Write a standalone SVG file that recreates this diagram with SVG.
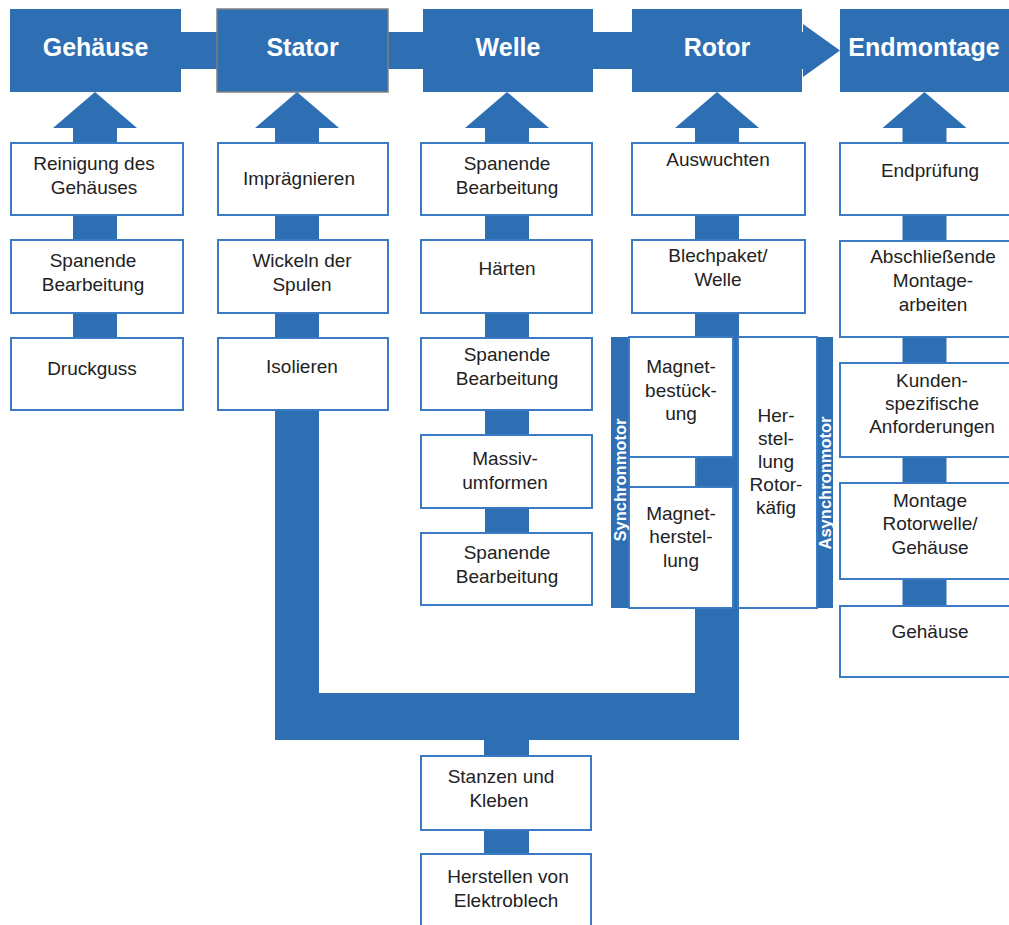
<svg xmlns="http://www.w3.org/2000/svg" width="1009" height="925" viewBox="0 0 1009 925">
<style>
.blue{fill:#2E6FB4}
.hdr{fill:#2E6FB4}
.box{fill:#ffffff;stroke:#3B7BC4;stroke-width:2}
.ht{font-family:"Liberation Sans",Arial,sans-serif;font-weight:bold;font-size:25px;fill:#ffffff;text-anchor:middle}
.t{font-family:"Liberation Sans",Arial,sans-serif;font-size:19px;fill:#222222;text-anchor:middle}
.vt{font-family:"Liberation Sans",Arial,sans-serif;font-weight:bold;font-size:16.5px;fill:#ffffff;text-anchor:middle}
</style>
<rect width="1009" height="925" fill="#ffffff"/>
<g id="connectors">
  <rect class="blue" x="181" y="32" width="622" height="37"/>
  <polygon class="blue" points="803,24 840,50.5 803,77"/>
  <polygon class="blue" points="95,92 53,128 137,128"/>
  <rect class="blue" x="73" y="127" width="44" height="17"/>
  <polygon class="blue" points="297,92 255,128 339,128"/>
  <rect class="blue" x="275" y="127" width="44" height="17"/>
  <polygon class="blue" points="507,92 465,128 549,128"/>
  <rect class="blue" x="485" y="127" width="44" height="17"/>
  <polygon class="blue" points="717,92 675,128 759,128"/>
  <rect class="blue" x="695" y="127" width="44" height="17"/>
  <polygon class="blue" points="924.5,92 882.5,128 966.5,128"/>
  <rect class="blue" x="902.5" y="127" width="44" height="17"/>
  <rect class="blue" x="73" y="214" width="44" height="27"/>
  <rect class="blue" x="73" y="312" width="44" height="27"/>
  <rect class="blue" x="275" y="214" width="44" height="27"/>
  <rect class="blue" x="275" y="312" width="44" height="27"/>
  <rect class="blue" x="485" y="214" width="44" height="27"/>
  <rect class="blue" x="485" y="312" width="44" height="27"/>
  <rect class="blue" x="485" y="409" width="44" height="27"/>
  <rect class="blue" x="485" y="507" width="44" height="27"/>
  <rect class="blue" x="695" y="214" width="44" height="27"/>
  <rect class="blue" x="695" y="312" width="44" height="428"/>
  <rect class="blue" x="902.5" y="214" width="44" height="27"/>
  <rect class="blue" x="902.5" y="336" width="44" height="28"/>
  <rect class="blue" x="902.5" y="456" width="44" height="28"/>
  <rect class="blue" x="902.5" y="578" width="44" height="29"/>
  <rect class="blue" x="275" y="410" width="44" height="330"/>
  <rect class="blue" x="275" y="693" width="464" height="47"/>
  <rect class="blue" x="484" y="739" width="45" height="18"/>
  <rect class="blue" x="484" y="829" width="45" height="26"/>
  <rect class="blue" x="611" y="337" width="18" height="271"/>
  <rect class="blue" x="817" y="337" width="16" height="271"/>
</g>
<g id="h-gehaeuse"><rect class="hdr" x="10" y="9" width="171" height="83"/><text class="ht" x="95.5" y="56">Gehäuse</text></g>
<g id="h-stator"><rect class="hdr" x="217" y="9" width="171" height="83" stroke="#808080" stroke-width="1.5"/><text class="ht" x="302.5" y="56">Stator</text></g>
<g id="h-welle"><rect class="hdr" x="423" y="9" width="170" height="83"/><text class="ht" x="508" y="56">Welle</text></g>
<g id="h-rotor"><rect class="hdr" x="632" y="9" width="170" height="83"/><text class="ht" x="717" y="56">Rotor</text></g>
<g id="h-endmontage"><rect class="hdr" x="840" y="9" width="175" height="83"/><text class="ht" x="924" y="56">Endmontage</text></g>

<g id="g1"><rect class="box" x="11" y="143" width="172" height="72"/><text class="t" x="94" y="170">Reinigung des<tspan x="94" y="194">Gehäuses</tspan></text></g>
<g id="g2"><rect class="box" x="11" y="240" width="172" height="73"/><text class="t" x="93" y="267">Spanende<tspan x="93" y="291">Bearbeitung</tspan></text></g>
<g id="g3"><rect class="box" x="11" y="338" width="172" height="72"/><text class="t" x="92" y="375">Druckguss</text></g>

<g id="s1"><rect class="box" x="218" y="143" width="170" height="72"/><text class="t" x="299" y="185">Imprägnieren</text></g>
<g id="s2"><rect class="box" x="218" y="240" width="170" height="73"/><text class="t" x="302" y="267">Wickeln der<tspan x="302" y="291">Spulen</tspan></text></g>
<g id="s3"><rect class="box" x="218" y="338" width="170" height="72"/><text class="t" x="302" y="373">Isolieren</text></g>

<g id="w1"><rect class="box" x="421" y="143" width="171" height="72"/><text class="t" x="507" y="170">Spanende<tspan x="507" y="194">Bearbeitung</tspan></text></g>
<g id="w2"><rect class="box" x="421" y="240" width="171" height="73"/><text class="t" x="507" y="275">Härten</text></g>
<g id="w3"><rect class="box" x="421" y="338" width="171" height="72"/><text class="t" x="507" y="361">Spanende<tspan x="507" y="385">Bearbeitung</tspan></text></g>
<g id="w4"><rect class="box" x="421" y="435" width="171" height="73"/><text class="t" x="505" y="465">Massiv-<tspan x="505" y="489">umformen</tspan></text></g>
<g id="w5"><rect class="box" x="421" y="533" width="171" height="72"/><text class="t" x="507" y="559">Spanende<tspan x="507" y="583">Bearbeitung</tspan></text></g>

<g id="r1"><rect class="box" x="632" y="143" width="173" height="72"/><text class="t" x="718" y="166">Auswuchten</text></g>
<g id="r2"><rect class="box" x="632" y="240" width="173" height="73"/><text class="t" x="718" y="262">Blechpaket/<tspan x="718" y="286">Welle</tspan></text></g>
<g id="r3"><rect class="box" x="629" y="337" width="104" height="120"/><text class="t" x="681" y="373">Magnet-<tspan x="681" y="397">bestück-</tspan><tspan x="681" y="420">ung</tspan></text></g>
<g id="r3b"><rect class="box" x="629" y="457" width="67" height="30"/></g>
<g id="r4"><rect class="box" x="629" y="487" width="104" height="121"/><text class="t" x="681" y="520">Magnet-<tspan x="681" y="543">herstel-</tspan><tspan x="681" y="567">lung</tspan></text></g>
<g id="r5"><rect class="box" x="738" y="337" width="79" height="271"/><text class="t" x="776" y="422">Her-<tspan x="776" y="445">stel-</tspan><tspan x="776" y="468">lung</tspan><tspan x="776" y="491">Rotor-</tspan><tspan x="776" y="514">käfig</tspan></text></g>
<g id="sync"><text class="vt" transform="translate(626,480) rotate(-90)">Synchronmotor</text></g>
<g id="async"><text class="vt" transform="translate(831,483) rotate(-90)">Asynchronmotor</text></g>

<g id="e1"><rect class="box" x="840" y="143" width="175" height="72"/><text class="t" x="930" y="177">Endprüfung</text></g>
<g id="e2"><rect class="box" x="840" y="241" width="175" height="96"/><text class="t" x="933" y="263">Abschließende<tspan x="933" y="287">Montage-</tspan><tspan x="933" y="311">arbeiten</tspan></text></g>
<g id="e3"><rect class="box" x="840" y="363" width="175" height="94"/><text class="t" x="932" y="387">Kunden-<tspan x="932" y="410">spezifische</tspan><tspan x="932" y="433">Anforderungen</tspan></text></g>
<g id="e4"><rect class="box" x="840" y="483" width="175" height="96"/><text class="t" x="930" y="507">Montage<tspan x="930" y="530">Rotorwelle/</tspan><tspan x="930" y="554">Gehäuse</tspan></text></g>
<g id="e5"><rect class="box" x="840" y="606" width="175" height="71"/><text class="t" x="930" y="638">Gehäuse</text></g>

<g id="b1"><rect class="box" x="421" y="756" width="170" height="74"/><text class="t" x="501" y="783">Stanzen und<tspan x="499" y="807">Kleben</tspan></text></g>
<g id="b2"><rect class="box" x="421" y="854" width="170" height="75"/><text class="t" x="508" y="883">Herstellen von<tspan x="506" y="907">Elektroblech</tspan></text></g>
</svg>
